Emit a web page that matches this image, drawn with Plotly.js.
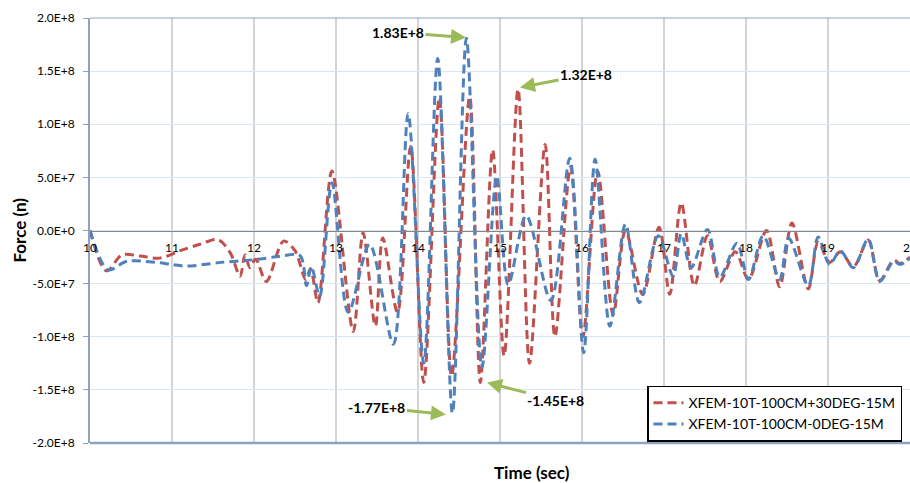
<!DOCTYPE html>
<html>
<head>
<meta charset="utf-8">
<script src="https://cdn.plot.ly/plotly-3.0.1.min.js"></script>
<style>html,body{margin:0;padding:0;background:#fff;}#chart{width:910px;height:483px;}</style>
</head>
<body>
<div id="chart"></div>
<script>
// Series: XFEM-10T-100CM+30DEG-15M (red)
const redTime = [10.0, 10.2, 10.39, 10.61, 10.85, 11.1, 11.34, 11.56, 11.71, 11.83, 11.89, 11.95, 12.02, 12.15, 12.36, 12.5, 12.63, 12.69, 12.78, 12.95, 13.21, 13.33, 13.48, 13.57, 13.75, 13.91, 14.07, 14.26, 14.41, 14.63, 14.76, 14.91, 15.05, 15.22, 15.36, 15.55, 15.67, 15.86, 16.01, 16.19, 16.38, 16.53, 16.74, 16.94, 17.07, 17.21, 17.37, 17.53, 17.68, 17.87, 18.03, 18.25, 18.41, 18.56, 18.76, 18.88, 19.02, 19.15, 19.31, 19.49, 19.63, 19.80, 19.88, 20.0];
const redForce = [0, -3.8e7, -2.3e7, -2.4e7, -2.6e7, -1.9e7, -1.3e7, -0.85e7, -2.1e7, -4.3e7, -2.3e7, -3.5e7, -2.7e7, -4.8e7, -1.0e7, -1.9e7, -4.6e7, -3.6e7, -6.8e7, 5.6e7, -9.5e7, -0.2e7, -9.0e7, -0.7e7, -7.7e7, 7.9e7, -14.3e7, 12.5e7, -13.7e7, 12.6e7, -14.3e7, 7.6e7, -11.8e7, 13.3e7, -12.5e7, 8.1e7, -10.0e7, 6.0e7, -10.0e7, 5.6e7, -7.9e7, 0.0, -6.0e7, 0.3e7, -6.0e7, 2.6e7, -5.2e7, -0.5e7, -4.8e7, -2.0e7, -4.6e7, 0.0, -5.3e7, 0.7e7, -5.5e7, -1.1e7, -3.0e7, -2.0e7, -3.4e7, -0.9e7, -4.7e7, -2.8e7, -3.1e7, -2.5e7];
// Series: XFEM-10T-100CM-0DEG-15M (blue)
const blueTime = [10.0, 10.22, 10.45, 10.8, 11.0, 11.18, 11.6, 12.0, 12.3, 12.56, 12.64, 12.70, 12.80, 12.95, 13.15, 13.41, 13.70, 13.88, 14.07, 14.24, 14.42, 14.59, 14.78, 14.96, 15.10, 15.32, 15.62, 15.85, 16.02, 16.16, 16.34, 16.53, 16.70, 16.93, 17.11, 17.21, 17.33, 17.53, 17.68, 17.89, 18.03, 18.21, 18.41, 18.52, 18.76, 18.88, 19.02, 19.15, 19.31, 19.49, 19.63, 19.80, 19.88, 20.0];
const blueForce = [0, -3.7e7, -2.9e7, -3.0e7, -3.2e7, -3.35e7, -3.0e7, -2.75e7, -2.45e7, -2.35e7, -5.2e7, -3.4e7, -6.2e7, 4.5e7, -7.7e7, -1.3e7, -10.7e7, 11.0e7, -12.5e7, 16.2e7, -17.2e7, 18.1e7, -12.9e7, 5.1e7, -5.1e7, 1.4e7, -6.6e7, 6.8e7, -11.5e7, 6.7e7, -9.0e7, 0.6e7, -6.8e7, -0.5e7, -4.3e7, -0.3e7, -3.5e7, 0.1e7, -4.4e7, -1.2e7, -4.6e7, -0.5e7, -4.6e7, -0.7e7, -5.2e7, -0.6e7, -3.2e7, -1.9e7, -3.5e7, -0.8e7, -4.8e7, -2.9e7, -3.2e7, -2.6e7];
const seriesNames = ['XFEM-10T-100CM+30DEG-15M', 'XFEM-10T-100CM-0DEG-15M'];
const xTickVals = [10, 11, 12, 13, 14, 15, 16, 17, 18, 19, 20];
const yTickVals = [2e8, 1.5e8, 1e8, 5e7, 0, -5e7, -1e8, -1.5e8, -2e8];
const yTickText = ['2.0E+8', '1.5E+8', '1.0E+8', '5.0E+7', '0.0E+0', '-5.0E+7', '-1.0E+8', '-1.5E+8', '-2.0E+8'];
// Callouts: [x, y, label]
const callouts = [[14.585, 1.816e8, '1.83E+8'], [15.244, 1.345e8, '1.32E+8'], [14.341, -1.731e8, '-1.77E+8'], [14.841, -1.43e8, '-1.45E+8']];
const calloutOffsets = [[-68, -5], [66, -13], [-69, -7], [69, 18]];

const FONT = 'Lato, "Open Sans", sans-serif';
const traces = [
  {x: redTime, y: redForce, name: seriesNames[0], type: 'scatter', mode: 'lines',
   line: {color: '#C0504D', width: 3, dash: '9px,5px', shape: 'spline', smoothing: 0.9}},
  {x: blueTime, y: blueForce, name: seriesNames[1], type: 'scatter', mode: 'lines',
   line: {color: '#4F81BD', width: 3, dash: '9px,5px', shape: 'spline', smoothing: 0.9}}
];

const annotations = callouts.map((c, i) => ({
  x: c[0], y: c[1], xref: 'x', yref: 'y', text: '<b>' + c[2] + '</b>',
  showarrow: true, arrowhead: 2, arrowsize: 1, arrowwidth: 3, arrowcolor: '#9BBB59',
  ax: calloutOffsets[i][0], ay: calloutOffsets[i][1], standoff: 0,
  font: {family: FONT, size: 14, color: '#000'}
}));
annotations.push({xref: 'paper', yref: 'paper', x: (532 - 90) / 820, y: 0, yshift: -29, yanchor: 'middle', xanchor: 'center',
  text: '<b>Time (sec)</b>', showarrow: false, font: {family: FONT, size: 17, color: '#000'}});
annotations.push({xref: 'paper', yref: 'paper', x: 0, xshift: -71, y: 0.5, xanchor: 'center', yanchor: 'middle',
  text: '<b>Force (n)</b>', textangle: -90, showarrow: false, font: {family: FONT, size: 17, color: '#000'}});

const layout = {
  width: 910, height: 483,
  margin: {l: 90, r: 0, t: 18, b: 40},
  paper_bgcolor: '#fff', plot_bgcolor: '#fff',
  font: {family: FONT, size: 12, color: '#000'},
  showlegend: true,
  legend: {x: (647 - 90) / 820, y: 0.003, xanchor: 'left', yanchor: 'bottom', bgcolor: '#fff',
    bordercolor: '#000', borderwidth: 1.5, font: {family: FONT, size: 14, color: '#000'}},
  xaxis: {range: [10, 20], tickvals: xTickVals, ticktext: xTickVals.map(String), anchor: 'free', position: 0.5,
    showline: true, linecolor: '#868686', linewidth: 1, showgrid: true, gridcolor: '#D4D4D4', gridwidth: 2,
    zeroline: false, ticks: '', ticklabelstandoff: 6, ticklabeloverflow: 'allow', tickfont: {family: FONT, size: 12, color: '#000'}},
  yaxis: {range: [-2e8, 2e8], tickvals: yTickVals, ticktext: yTickText, showline: true, linecolor: '#8EA2C0',
    linewidth: 2, ticks: 'outside', ticklen: 5, tickcolor: '#8EA2C0', tickwidth: 1, ticklabelstandoff: 6,
    showgrid: true, gridcolor: '#DCE6F2', gridwidth: 1, zeroline: false, tickfont: {family: FONT, size: 12, color: '#000'}},
  shapes: [
    {type: 'line', xref: 'paper', yref: 'paper', x0: 0, x1: 1, y0: 0, y1: 0, line: {color: '#8EA2C0', width: 2.5}},
    {type: 'line', xref: 'paper', yref: 'paper', x0: 0, x1: 1, y0: 1, y1: 1, line: {color: '#8EA2C0', width: 1}}
  ],
  annotations: annotations
};
Plotly.newPlot('chart', traces, layout, {displayModeBar: false, staticPlot: true});
</script>
</body>
</html>
